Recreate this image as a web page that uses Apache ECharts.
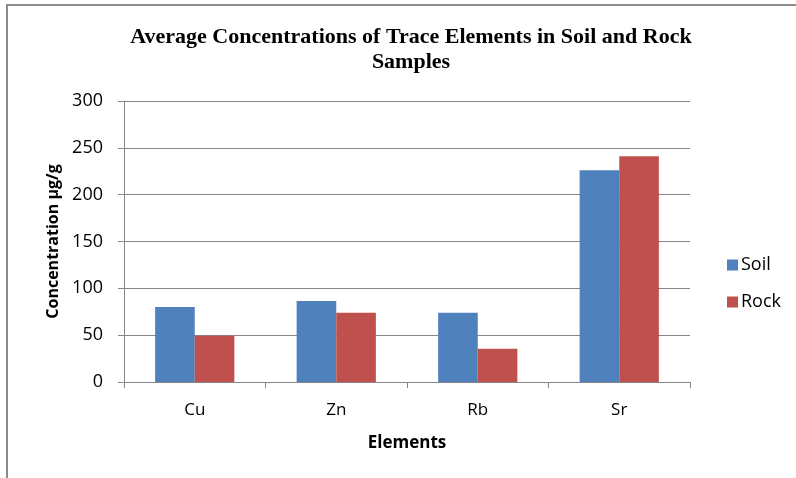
<!DOCTYPE html>
<html>
<head>
<meta charset="utf-8">
<script src="https://cdn.jsdelivr.net/npm/echarts@6/dist/echarts.min.js"></script>
<style>
  html, body { margin: 0; padding: 0; background: #fff; }
  #chart { width: 796px; height: 478px; }
</style>
</head>
<body>
<div id="chart"></div>
<script>
// data
const elements = ["Cu", "Zn", "Rb", "Sr"];
const soil = [80, 86.5, 74, 226];
const rock = [49.5, 74, 35.5, 241];
const yTicks = { min: 0, max: 300, interval: 50 };

const axisColor = "#868686";
const textFont = "'Open Sans', 'Liberation Sans', sans-serif";

let myChart = echarts.init(document.getElementById("chart"));

const option = {
  animation: false,
  title: {
    text: "Average Concentrations of Trace Elements in Soil and Rock\nSamples",
    left: 406,
    top: 20,
    textAlign: "center",
    textStyle: {
      fontFamily: "'Liberation Serif', serif",
      fontWeight: "bold",
      fontSize: 22,
      lineHeight: 25,
      color: "#000",
    },
  },
  graphic: [
    {
      // outer frame (cropped at right and bottom)
      type: "polyline",
      shape: { points: [[7, 478], [7, 5], [796, 5]] },
      style: { stroke: "#8c8c8c", lineWidth: 2, fill: null },
    },
  ],
  legend: {
    orient: "vertical",
    left: 722,
    top: 251,
    itemWidth: 11,
    itemHeight: 11,
    itemGap: 19,
    icon: "rect",
    textStyle: { fontFamily: textFont, fontSize: 18, color: "#000", padding: [0, 0, 0, -2] },
    data: ["Soil", "Rock"],
  },
  grid: {
    left: 124,
    right: 106,
    top: 101,
    bottom: 96,
  },
  xAxis: {
    type: "category",
    data: elements,
    name: "Elements",
    nameLocation: "middle",
    nameGap: 53,
    nameTextStyle: { fontFamily: textFont, fontWeight: "bold", fontSize: 17, color: "#000" },
    axisLine: { show: true, lineStyle: { color: axisColor } },
    axisTick: { show: true, length: 6, lineStyle: { color: axisColor } },
    axisLabel: { fontFamily: textFont, fontSize: 17, color: "#000", margin: 20 },
  },
  yAxis: {
    type: "value",
    min: yTicks.min,
    max: yTicks.max,
    interval: yTicks.interval,
    name: "Concentration µg/g",
    nameLocation: "middle",
    nameGap: 62,
    nameTextStyle: { fontFamily: textFont, fontWeight: "bold", fontSize: 16, color: "#000" },
    axisLine: { show: true, lineStyle: { color: axisColor } },
    axisTick: { show: true, length: 6, lineStyle: { color: axisColor } },
    axisLabel: { fontFamily: textFont, fontSize: 18, color: "#000", margin: 21 },
    splitLine: { show: true, lineStyle: { color: axisColor } },
  },
  series: [
    {
      name: "Soil",
      type: "bar",
      data: soil,
      barWidth: "28%",
      barGap: "0%",
      itemStyle: { color: "#4F81BD" },
    },
    {
      name: "Rock",
      type: "bar",
      data: rock,
      barWidth: "28%",
      itemStyle: { color: "#C0504D" },
    },
  ],
};

myChart.setOption(option);
</script>
</body>
</html>
